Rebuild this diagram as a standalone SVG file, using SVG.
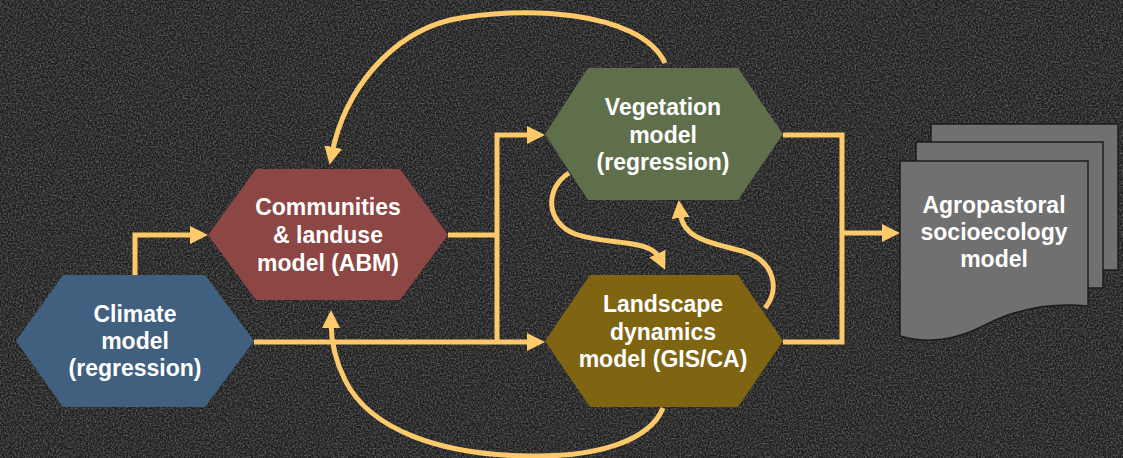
<svg xmlns="http://www.w3.org/2000/svg" width="1123" height="458" viewBox="0 0 1123 458">
  <defs>
    <filter id="grain" x="0" y="0" width="100%" height="100%">
      <feTurbulence type="fractalNoise" baseFrequency="0.6" numOctaves="2" seed="3" result="n"/>
      <feColorMatrix in="n" type="matrix" values="0 0 0 0 0.42  0 0 0 0 0.42  0 0 0 0 0.42  0 0 0 0.9 -0.32"/>
    </filter>
    <marker id="arrow" markerUnits="userSpaceOnUse" viewBox="0 0 18 18" markerWidth="18" markerHeight="18" refX="6" refY="9" orient="auto">
      <path d="M0,0 L18,9 L0,18 Z" fill="#fcc96b"/>
    </marker>
    <style>
      .conn { fill: none; stroke: #fcc96b; stroke-width: 5; stroke-linejoin: miter; }
      .lbl { font-family: "Liberation Sans", Arial, sans-serif; font-weight: bold; font-size: 23px; fill: #ffffff; text-anchor: middle; }
      .doc { fill: #707070; stroke: #1c1c1c; stroke-width: 1.5; }
    </style>
  </defs>

  <rect width="1123" height="458" fill="#1f1f1f"/>
  <rect width="1123" height="458" filter="url(#grain)"/>

  <g id="connectors">
    <path class="conn" d="M135,275 V235 H196" marker-end="url(#arrow)"/>
    <path class="conn" d="M254,342 H533" marker-end="url(#arrow)"/>
    <path class="conn" d="M448,235 H497"/>
    <path class="conn" d="M497,342 V135 H533" marker-end="url(#arrow)"/>
    <path class="conn" d="M783,135 H842 V342 H783"/>
    <path class="conn" d="M842,233 H888" marker-end="url(#arrow)"/>
    <path class="conn" d="M569,173 C545,188 545,222 575,234 C610,246 650,238 660,259" marker-end="url(#arrow)"/>
    <path class="conn" d="M765,308 C780,290 775,262 745,252 C710,242 683,240 680,212" marker-end="url(#arrow)"/>
    <path class="conn" d="M665,63 C640,10 520,5 450,20 C390,35 345,90 332,153" marker-end="url(#arrow)"/>
    <path class="conn" d="M663,408 C650,440 600,457 530,456 C440,455 370,430 345,380 C335,360 331,340 331,322" marker-end="url(#arrow)"/>
  </g>

  <g id="climate">
    <polygon points="16,341 63,275 205,275 254,341 205,407 63,407" fill="#41607f"/>
    <text class="lbl" x="135" y="322">Climate</text>
    <text class="lbl" x="135" y="349">model</text>
    <text class="lbl" x="135" y="376">(regression)</text>
  </g>

  <g id="communities">
    <polygon points="208,235 256,169 400,169 448,235 400,300 256,300" fill="#8c4644"/>
    <text class="lbl" x="328" y="215">Communities</text>
    <text class="lbl" x="328" y="243">&amp; landuse</text>
    <text class="lbl" x="328" y="271">model (ABM)</text>
  </g>

  <g id="vegetation">
    <polygon points="545,134 588,68 738,68 783,134 738,200 588,200" fill="#5f6f4c"/>
    <text class="lbl" x="663" y="115">Vegetation</text>
    <text class="lbl" x="663" y="143">model</text>
    <text class="lbl" x="663" y="170">(regression)</text>
  </g>

  <g id="landscape">
    <polygon points="545,341 590,275 738,275 783,341 738,407 590,407" fill="#7f6511"/>
    <text class="lbl" x="663" y="312">Landscape</text>
    <text class="lbl" x="663" y="340">dynamics</text>
    <text class="lbl" x="663" y="367">model (GIS/CA)</text>
  </g>

  <g id="agropastoral">
    <rect class="doc" x="931" y="124" width="187" height="146"/>
    <rect class="doc" x="916" y="142" width="187" height="146"/>
    <path class="doc" d="M900,161 H1088 V306 C1045,302 1010,312 985,325 C960,338 930,345 900,336 Z"/>
    <text class="lbl" x="994" y="213">Agropastoral</text>
    <text class="lbl" x="994" y="240">socioecology</text>
    <text class="lbl" x="994" y="267">model</text>
  </g>
</svg>
